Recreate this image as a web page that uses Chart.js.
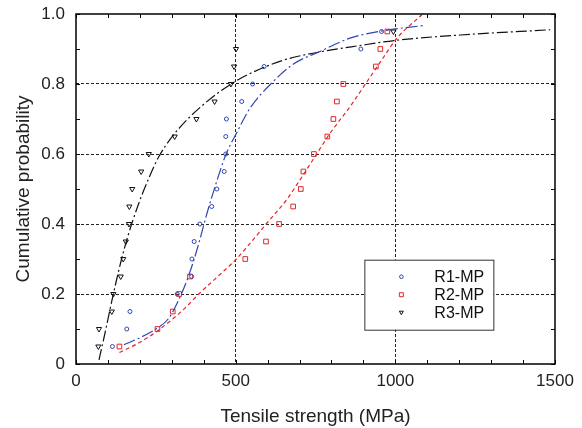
<!DOCTYPE html>
<html>
<head>
<meta charset="utf-8">
<script src="https://cdn.jsdelivr.net/npm/chart.js@4"></script>
<style>
  html, body { margin: 0; padding: 0; background: #fff; }
  #wrap { width: 582px; height: 428px; }
</style>
</head>
<body>
<div id="wrap"><canvas id="cdf"></canvas></div>
<script>
// cumulative probability levels of the measured points
const probs = [0.05, 0.10, 0.15, 0.20, 0.25, 0.30, 0.35, 0.40, 0.45, 0.50,
  0.55, 0.60, 0.65, 0.70, 0.75, 0.80, 0.85, 0.90, 0.95];

// measured tensile strengths (MPa)
const r1Strength = [114, 159, 169, 317, 362, 363, 370, 388, 425, 441,
  464, 469, 469, 471, 519, 553, 589, 892, 957];
const r2Strength = [136, 255, 303, 323, 357, 530, 595, 636, 680, 704,
  712, 745, 787, 806, 817, 837, 939, 953, 975];
const r3Strength = [70, 72, 112, 117, 140, 148, 156, 166, 167, 176,
  204, 228, 309, 377, 434, 485, 495, 501, 994];

// fitted curves
const r1FitX = [150, 200, 250, 290, 320, 350, 380, 410, 440, 470, 500, 545, 613, 681, 764, 858, 962, 1088];
const r1FitY = [0.055, 0.075, 0.10, 0.13, 0.18, 0.245, 0.33, 0.43, 0.52, 0.60, 0.655, 0.731, 0.803, 0.857, 0.893, 0.931, 0.952, 0.967];
const r2FitX = [136, 200, 260, 330, 388, 450, 500, 550, 600, 660, 702, 743, 800, 858, 910, 962, 1004, 1083];
const r2FitY = [0.033, 0.062, 0.098, 0.150, 0.203, 0.255, 0.298, 0.350, 0.405, 0.470, 0.527, 0.585, 0.665, 0.735, 0.805, 0.875, 0.930, 0.998];
const r3FitX = [72, 90, 117, 140, 164, 195, 223, 258, 300, 350, 400, 450, 500, 545, 649, 754, 889, 1004, 1203, 1485];
const r3FitY = [0.012, 0.085, 0.20, 0.29, 0.37, 0.455, 0.52, 0.59, 0.648, 0.70, 0.742, 0.778, 0.808, 0.830, 0.868, 0.89, 0.91, 0.925, 0.94, 0.955];

const seriesNames = ["R1-MP", "R2-MP", "R3-MP"];
const xTicks = [0, 500, 1000, 1500];
const yTicks = [0, 0.2, 0.4, 0.6, 0.8, 1.0];

const BLUE = "#3045b0";
const RED = "#e3262a";
const BLACK = "#111111";
const FONT = "'Liberation Sans', Arial, sans-serif";

function pts(xs, ys) {
  return xs.map((x, i) => ({ x: x, y: ys[i] }));
}

function isMajorY(v) {
  return yTicks.some((t) => Math.abs(t - v) < 1e-6);
}

// frame, inward minor ticks and the boxed legend
const framePlugin = {
  id: "frame",
  afterDatasetsDraw(chart) {
    const { ctx, chartArea: a, scales } = chart;
    ctx.save();
    ctx.strokeStyle = "#000";
    ctx.lineWidth = 1;
    ctx.beginPath();
    for (let v = 0; v <= 1500; v += 100) {
      const x = Math.round(scales.x.getPixelForValue(v)) + 0.5;
      ctx.moveTo(x, a.bottom); ctx.lineTo(x, a.bottom - 4);
      ctx.moveTo(x, a.top); ctx.lineTo(x, a.top + 4);
    }
    for (let i = 0; i <= 10; i++) {
      const y = Math.round(scales.y.getPixelForValue(i / 10)) + 0.5;
      ctx.moveTo(a.left, y); ctx.lineTo(a.left + 4, y);
      ctx.moveTo(a.right, y); ctx.lineTo(a.right - 4, y);
    }
    ctx.stroke();
    ctx.lineWidth = 1.5;
    ctx.strokeRect(a.left, a.top, a.right - a.left, a.bottom - a.top);

    // legend
    const bx = a.left + (a.right - a.left) * 0.602;
    const by = a.top + (a.bottom - a.top) * 0.702;
    const bw = 129, bh = 70;
    ctx.fillStyle = "#fff";
    ctx.fillRect(bx, by, bw, bh);
    ctx.lineWidth = 1;
    ctx.strokeStyle = "#333";
    ctx.strokeRect(bx + 0.5, by + 0.5, bw, bh);
    ctx.font = "16px " + FONT;
    ctx.textBaseline = "middle";
    const colors = [BLUE, RED, BLACK];
    seriesNames.forEach((name, i) => {
      const cy = by + 17 + i * 18;
      const cx = bx + 37;
      ctx.strokeStyle = colors[i];
      ctx.lineWidth = 1;
      ctx.beginPath();
      if (i === 0) {
        ctx.arc(cx, cy, 1.8, 0, Math.PI * 2);
      } else if (i === 1) {
        ctx.rect(cx - 2, cy - 2, 4, 4);
      } else {
        ctx.moveTo(cx - 2, cy - 1.5); ctx.lineTo(cx + 2, cy - 1.5); ctx.lineTo(cx, cy + 2); ctx.closePath();
      }
      ctx.stroke();
      ctx.fillStyle = "#111";
      ctx.fillText(name, bx + 70, cy + 1);
    });
    ctx.restore();
  }
};

const ctx = document.getElementById("cdf").getContext("2d");

new Chart(ctx, {
  type: "scatter",
  data: {
    datasets: [
      {
        label: "R1 fit", data: pts(r1FitX, r1FitY), showLine: true, pointRadius: 0,
        borderColor: BLUE, borderWidth: 1.2, borderDash: [12, 3, 2, 3], cubicInterpolationMode: "monotone"
      },
      {
        label: "R2 fit", data: pts(r2FitX, r2FitY), showLine: true, pointRadius: 0,
        borderColor: RED, borderWidth: 1.2, borderDash: [4, 3], cubicInterpolationMode: "monotone"
      },
      {
        label: "R3 fit", data: pts(r3FitX, r3FitY), showLine: true, pointRadius: 0,
        borderColor: BLACK, borderWidth: 1.2, borderDash: [11, 3, 2, 3], cubicInterpolationMode: "monotone"
      },
      {
        label: seriesNames[0], data: pts(r1Strength, probs), pointStyle: "circle", pointRadius: 2,
        borderColor: BLUE, backgroundColor: "rgba(0,0,0,0)", borderWidth: 1
      },
      {
        label: seriesNames[1], data: pts(r2Strength, probs), pointStyle: "rect", pointRadius: 3.3,
        borderColor: RED, backgroundColor: "rgba(0,0,0,0)", borderWidth: 1
      },
      {
        label: seriesNames[2], data: pts(r3Strength, probs), pointStyle: "triangle", rotation: 180, pointRadius: 3,
        borderColor: BLACK, backgroundColor: "rgba(0,0,0,0)", borderWidth: 1
      },
    ],
  },
  options: {
    responsive: true,
    maintainAspectRatio: false,
    animation: false,
    layout: { padding: { top: 14, right: 27, left: 0, bottom: 0 } },
    plugins: {
      legend: { display: false },
      tooltip: { enabled: false },
    },
    scales: {
      x: {
        type: "linear",
        min: 0,
        max: 1500,
        afterFit: (s) => { s.height = 64; s.paddingLeft = 0; s.paddingRight = 0; },
        border: { display: false, dash: [3, 2] },
        grid: {
          drawTicks: false,
          lineWidth: 1,
          color: (c) => (c.tick && (c.tick.value === 500 || c.tick.value === 1000) ? "#222" : "rgba(0,0,0,0)"),
        },
        ticks: {
          stepSize: 100,
          autoSkip: false,
          maxRotation: 0,
          padding: 7,
          color: "#222",
          font: { size: 17, family: FONT },
          callback: (v) => (xTicks.includes(v) ? String(v) : ""),
        },
        title: {
          display: true,
          text: "Tensile strength (MPa)",
          color: "#222",
          padding: { top: 2, bottom: 0 },
          font: { size: 19, family: FONT },
        },
      },
      y: {
        type: "linear",
        min: 0,
        max: 1,
        afterFit: (s) => { s.width = 76; s.paddingTop = 0; s.paddingBottom = 0; },
        border: { display: false, dash: [3, 2] },
        grid: {
          drawTicks: false,
          lineWidth: 1,
          color: (c) => {
            const v = c.tick ? c.tick.value : 0;
            return v > 0.1 && v < 0.9 && isMajorY(v) ? "#222" : "rgba(0,0,0,0)";
          },
        },
        ticks: {
          stepSize: 0.1,
          autoSkip: false,
          padding: 11,
          color: "#222",
          font: { size: 17, family: FONT },
          callback: (v) => (isMajorY(v) ? (Math.abs(v) < 1e-9 ? "0" : v.toFixed(1)) : ""),
        },
        title: {
          display: true,
          text: "Cumulative probability",
          color: "#222",
          padding: { top: 12, bottom: 0 },
          font: { size: 19, family: FONT },
        },
      },
    },
  },
  plugins: [framePlugin],
});
</script>
</body>
</html>
